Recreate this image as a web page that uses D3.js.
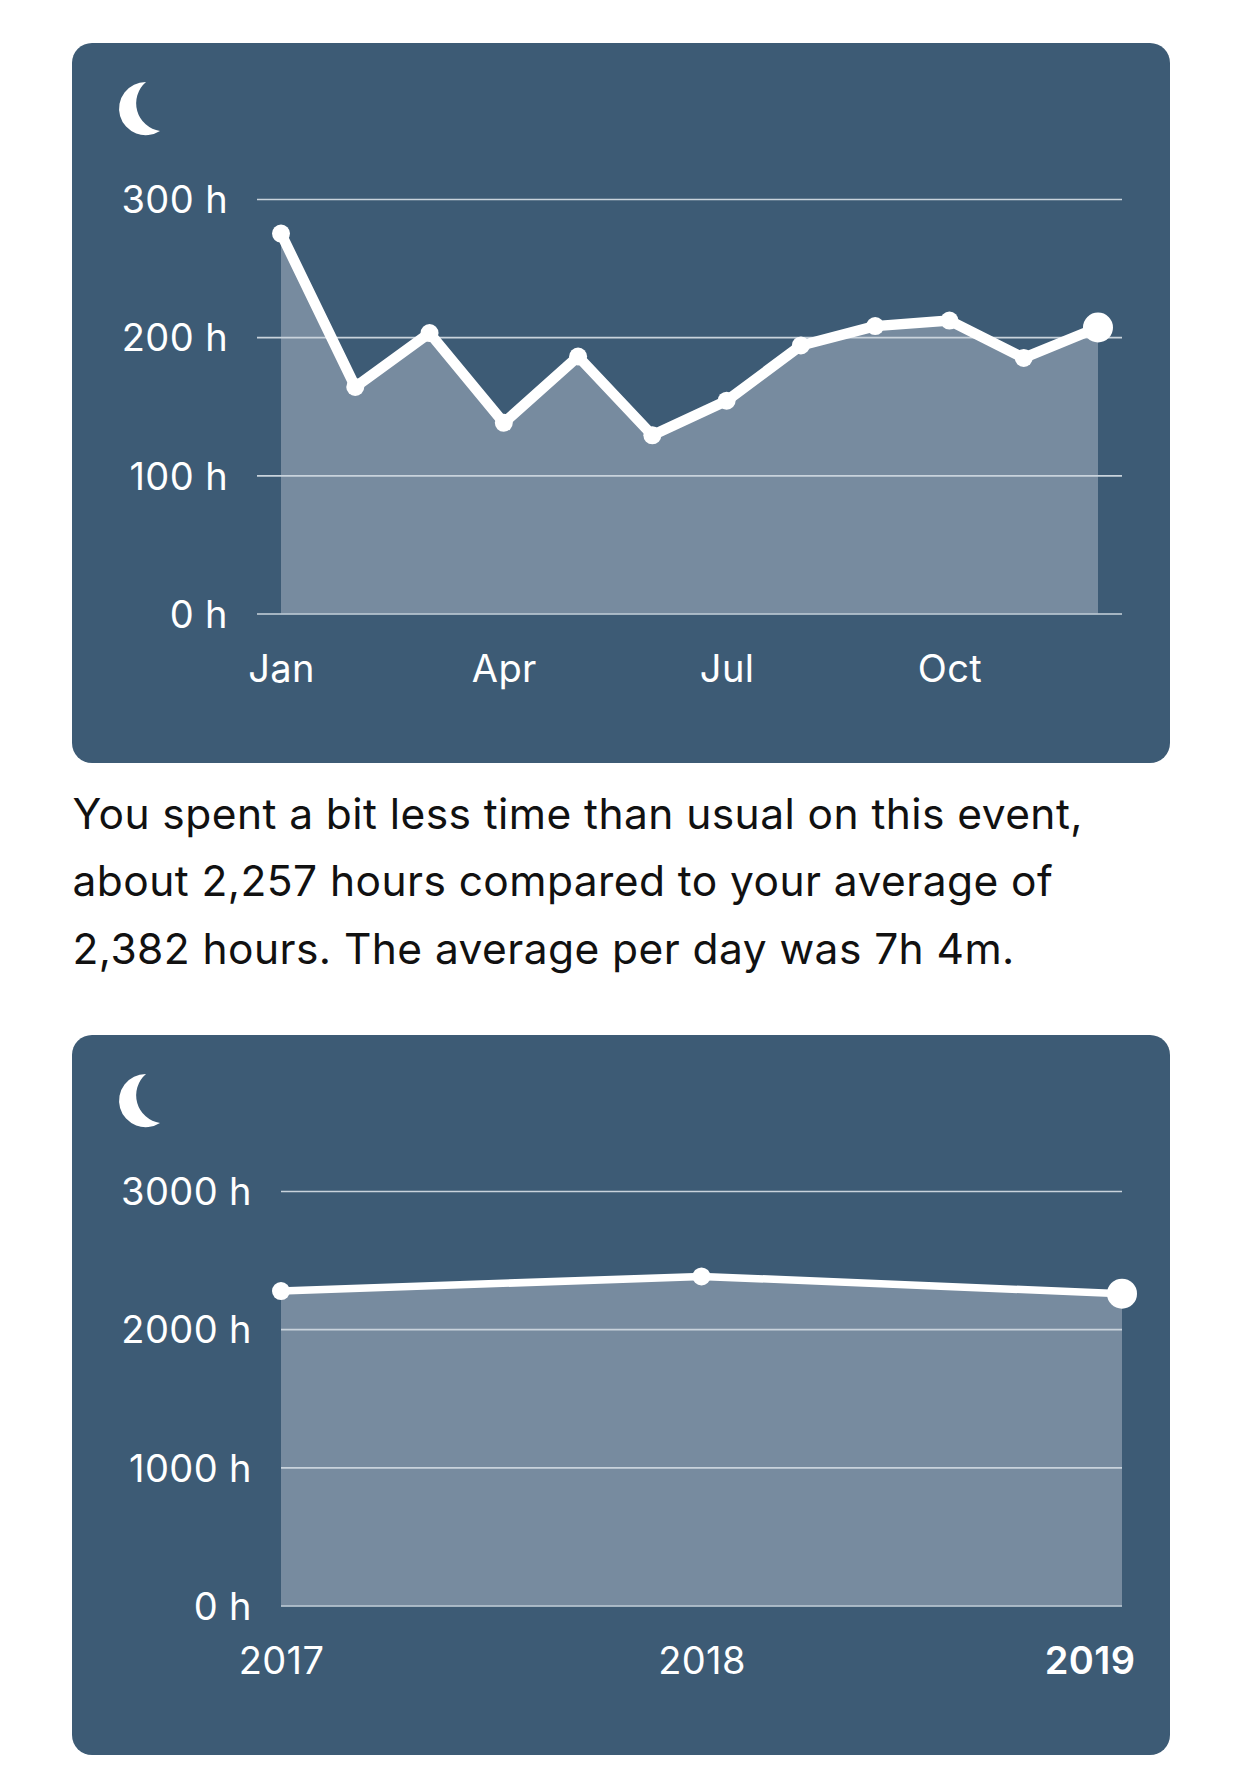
<!DOCTYPE html>
<html><head><meta charset="utf-8">
<script src="https://cdn.jsdelivr.net/npm/d3@7/dist/d3.min.js"></script>
<style>html,body{margin:0;background:#fff}svg{display:block}text{font-family:Inter,"Noto Sans",sans-serif}</style>
</head><body><svg id="c" width="1242" height="1785"></svg>
<script>
const months=["Jan","Feb","Mar","Apr","May","Jun","Jul","Aug","Sep","Oct","Nov","Dec"];
const monthHours=[275,164,203,138,186,129,154,194,208,212,185,207];
const monthTicks=["Jan","Apr","Jul","Oct"];
const monthGrid=[0,100,200,300];
const years=["2017","2018","2019"];
const yearHours=[2276,2382,2257];
const yearGrid=[0,1000,2000,3000];
const sentence=["You spent a bit less time than usual on this event,","about 2,257 hours compared to your average of","2,382 hours. The average per day was 7h 4m."];

const svg=d3.select("#c");
const BG="#3d5b75",AREA="#778b9f",GRID="#c9d3dc";
function panel(o){
  const g=svg.append("g");
  g.append("rect").attr("x",72).attr("y",o.top).attr("width",1098).attr("height",720).attr("rx",20).attr("fill",BG);
  // moon
  g.append("path").attr("transform",`translate(0,${o.top})`)
   .attr("d","M146 39 A26.6 26.6 0 1 0 160 88 A28 28 0 0 1 146 39 Z").attr("fill","#fff");
  const x=d3.scalePoint().domain(o.cats).range([281,o.xEnd]);
  const y=d3.scaleLinear().domain([0,o.max]).range([o.top+570.5,o.top+156]);
  const pts=o.cats.map((c,i)=>[c,o.vals[i]]);
  g.append("path").datum(pts).attr("fill",AREA)
   .attr("d",d3.area().x(d=>x(d[0])).y0(y(0)).y1(d=>y(d[1])));
  const ya=d3.axisLeft(y).tickValues(o.grid).tickSize(0).tickPadding(o.pad).tickFormat(d=>d+" h");
  const yg=g.append("g").attr("transform",`translate(${o.gl},0)`).call(ya);
  yg.select(".domain").remove();
  yg.selectAll(".tick line").attr("x2",1122-o.gl).attr("stroke",GRID).attr("stroke-width",1.6);
  yg.selectAll("text").attr("fill","#fff").attr("font-size",38).attr("letter-spacing",0.4).attr("dy","0.36em");
  g.append("path").datum(pts).attr("fill","none").attr("stroke","#fff").attr("stroke-width",o.sw).attr("stroke-linejoin","round")
   .attr("d",d3.line().x(d=>x(d[0])).y(d=>y(d[1])));
  g.selectAll("circle").data(pts).join("circle").attr("cx",d=>x(d[0])).attr("cy",d=>y(d[1]))
   .attr("r",(d,i)=>i===pts.length-1?15:9).attr("fill","#fff");
  const xa=d3.axisBottom(x).tickValues(o.ticks).tickSize(0).tickPadding(0);
  const xg=g.append("g").attr("transform",`translate(0,${o.top+o.xLabel})`).call(xa);
  xg.select(".domain").remove();
  xg.selectAll("text").attr("fill","#fff").attr("font-size",38).attr("letter-spacing",0.4).attr("dy",0).attr("y",0);
  return xg;
}
panel({top:43,cats:months,vals:monthHours,max:300,grid:monthGrid,ticks:monthTicks,xEnd:1098,gl:257,pad:29,xLabel:638.5,sw:10.5});
const xg2=panel({top:1035,cats:years,vals:yearHours,max:3000,grid:yearGrid,ticks:years,xEnd:1122,gl:281,pad:29,xLabel:638.5,sw:7.5});
xg2.selectAll("text").filter(d=>d==="2019").attr("font-weight",600).attr("text-anchor","end").attr("x",13);
svg.append("g").selectAll("text").data(sentence).join("text").attr("x",72.5).attr("y",(d,i)=>829+i*67.3)
 .attr("fill","#111").attr("font-size",42.5).attr("letter-spacing",0.43).text(d=>d);
</script></body></html>
